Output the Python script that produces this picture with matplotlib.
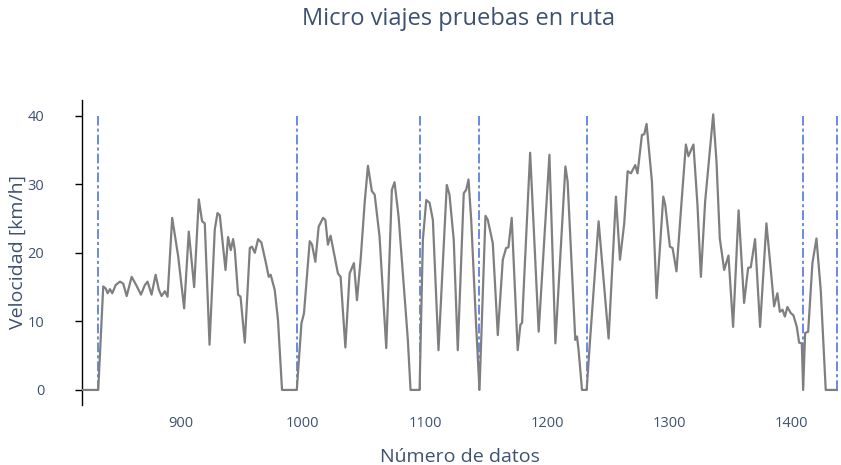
import matplotlib
matplotlib.use("Agg")
import matplotlib.pyplot as plt

plt.rcParams['font.family'] = ['Open Sans', 'DejaVu Sans']
plt.rcParams['lines.scale_dashes'] = False

# data
datos = [819, 832.3, 836.4, 838.4, 840.0, 841.9, 843.8, 846.6, 850.1, 852.8,
         855.6, 859.7, 863.7, 867.3, 870.5, 872.7, 876.0, 879.3, 882.0, 884.2,
         886.9, 889.1, 892.9, 897.8, 902.7, 906.5, 910.9, 914.7, 917.4, 919.6,
         923.5, 927.8, 930.0, 931.9, 936.6, 938.7, 940.9, 942.8, 944.2, 946.9,
         948.9, 952.4, 956.5, 958.3, 960.6, 963.3, 966.0, 970.1, 972.0, 973.6,
         976.9, 979.6, 982.9, 995.0, 998.8, 1000.9, 1005.6, 1007.5, 1010.2, 1012.9,
         1016.5, 1018.4, 1020.5, 1022.7, 1026.0, 1028.7, 1030.9, 1034.8, 1038.3, 1041.8,
         1044.3, 1047.3, 1050.6, 1053.3, 1056.5, 1058.8, 1062.8, 1068.3, 1072.9, 1075.1,
         1078.4, 1083.3, 1086.0, 1088.2, 1095.6, 1098.3, 1101.1, 1103.8, 1106.5, 1111.1,
         1117.9, 1120.1, 1123.6, 1126.9, 1131.8, 1133.8, 1135.7, 1137.9, 1142.0, 1144.7,
         1149.6, 1151.5, 1155.6, 1159.7, 1163.8, 1166.5, 1168.4, 1171.1, 1176.0, 1178.2,
         1179.6, 1186.2, 1193.2, 1202.0, 1206.9, 1215.1, 1216.9, 1223.2, 1224.6, 1225.9,
         1228.7, 1232.5, 1235.3, 1242.3, 1250.5, 1256.5, 1259.8, 1263.3, 1266.1, 1268.8,
         1272.3, 1274.2, 1277.8, 1279.7, 1281.6, 1286.0, 1289.8, 1295.3, 1296.9, 1300.7,
         1302.9, 1306.1, 1310.5, 1313.8, 1315.9, 1320.0, 1323.3, 1326.1, 1329.6, 1336.2,
         1338.9, 1341.6, 1345.2, 1348.7, 1352.5, 1357.0, 1361.5, 1364.8, 1367.0, 1370.5,
         1374.6, 1379.8, 1383.4, 1386.1, 1388.8, 1390.8, 1393.0, 1394.9, 1397.0, 1399.8,
         1401.9, 1404.7, 1406.6, 1408.8, 1409.9, 1411.5, 1414.0, 1417.5, 1420.8, 1424.3,
         1428.4, 1438.5]
velocidad = [0, 0, 15.1, 14.8, 14.1, 14.7, 14.1, 15.3, 15.8, 15.5,
             13.7, 16.5, 15.2, 13.9, 15.3, 15.8, 13.9, 16.8, 14.6, 13.7,
             14.4, 13.6, 25.1, 19.5, 11.9, 23.1, 15.0, 27.8, 24.6, 24.3,
             6.6, 23.4, 25.8, 25.5, 17.5, 22.3, 20.4, 22.0, 20.4, 13.9,
             13.6, 6.9, 20.7, 20.9, 20.0, 22.0, 21.5, 18.2, 16.5, 16.8,
             14.6, 10.2, 0, 0, 9.7, 11.2, 21.7, 21.2, 18.7, 23.8,
             25.1, 24.8, 21.2, 22.5, 19.5, 17.0, 16.5, 6.2, 17.0, 18.5,
             13.1, 19.0, 27.3, 32.7, 29.0, 28.5, 22.4, 6.1, 29.2, 30.3,
             25.3, 13.6, 7.3, 0, 0, 21.9, 27.7, 27.3, 24.8, 5.8,
             29.9, 28.5, 21.9, 5.8, 28.7, 29.2, 30.7, 24.8, 9.2, 0,
             25.4, 24.8, 21.4, 8.0, 19.0, 20.7, 20.8, 25.1, 5.8, 9.5,
             9.8, 34.6, 8.5, 34.3, 6.8, 32.6, 30.4, 7.3, 7.8, 5.8,
             0, 0, 7.3, 24.6, 7.5, 28.2, 19.0, 24.3, 31.9, 31.6,
             32.8, 31.6, 37.2, 37.3, 38.8, 30.4, 13.4, 28.2, 27.0, 20.9,
             20.7, 17.3, 28.0, 35.8, 34.1, 35.8, 27.0, 16.5, 27.5, 40.2,
             33.3, 22.1, 17.5, 19.6, 9.2, 26.2, 12.7, 17.8, 17.9, 22.0,
             9.2, 24.3, 17.5, 12.2, 14.1, 11.4, 11.7, 10.7, 12.1, 11.2,
             10.9, 9.2, 6.9, 6.8, 0, 8.3, 8.5, 18.5, 22.1, 14.6,
             0, 0]
cortes = [832.3, 995.0, 1095.6, 1144.7, 1232.5, 1409.9, 1437.4]

txt = '#3d5173'

fig = plt.figure(figsize=(8.41, 4.65), dpi=100)
ax = fig.add_axes([0.0975, 0.129, 0.899, 0.656])

ax.plot(datos, velocidad, color='#7f7f7f', lw=1.6, zorder=3)
for c in cortes:
    ax.plot([c, c], [0, 40], color='#4169e1', lw=1.1, dashes=(7, 2.2, 2.2, 2.2), zorder=2)

ax.set_xlim(819, 1438.5)
ax.set_ylim(-2.2, 42.3)
ax.set_xticks([900, 1000, 1100, 1200, 1300, 1400])
ax.set_yticks([0, 10, 20, 30, 40])

for s in ['top', 'right']:
    ax.spines[s].set_visible(False)
ax.spines['bottom'].set_visible(False)
ax.spines['left'].set_color('black')
ax.spines['left'].set_linewidth(1.0)

ax.tick_params(axis='y', colors='black', labelcolor=txt, labelsize=10.5, length=5, width=1, pad=22)
ax.tick_params(axis='x', length=0, labelcolor=txt, labelsize=10.5, pad=8)

ax.set_xlabel('Número de datos', color=txt, fontsize=14, labelpad=12)
ax.set_ylabel('Velocidad [km/h]', color=txt, fontsize=14, labelpad=1)
fig.text(0.545, 0.96, 'Micro viajes pruebas en ruta', ha='center', va='center',
         color=txt, fontsize=17)

fig.savefig('out.png', dpi=100)
